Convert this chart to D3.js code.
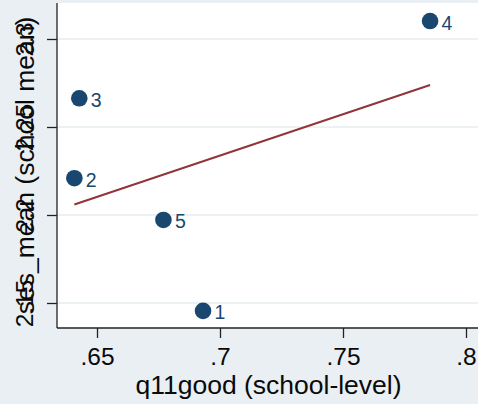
<!DOCTYPE html>
<html>
<head>
<meta charset="utf-8">
<script src="https://cdn.jsdelivr.net/npm/d3@7"></script>
<style>
  html, body { margin: 0; padding: 0; background: #e9eff2; }
  svg { display: block; font-family: "Liberation Sans", Arial, Helvetica, sans-serif; }
</style>
</head>
<body>
<svg id="chart" width="478" height="404"></svg>
<script>
// School-level means: share answering "good" on q11 vs. mean SES
const schoolIds = ["1", "2", "3", "4", "5"];
const q11good   = [0.6931, 0.6408, 0.6428, 0.7854, 0.6770];
const sesMean   = [2.1455, 2.2209, 2.2663, 2.3102, 2.1972];

const xTicks = [0.65, 0.70, 0.75, 0.80];
const xTickLabels = [".65", ".7", ".75", ".8"];
const yTicks = [2.15, 2.20, 2.25, 2.30];
const yTickLabels = ["2.15", "2.2", "2.25", "2.3"];

const xTitle = "q11good (school-level)";
const yTitle = "ses_mean (school mean)";

const W = 478, H = 404;
const plot = { left: 57, top: 3, right: 490, bottom: 328 };

const navy = "#1a476f", maroon = "#90353b", grid = "#e6edf0", axisColor = "#222", ink = "#0a0a0a";
const tickFont = "24.5px", titleFont = "26.5px";

const x = d3.scaleLinear().domain([0.65, 0.80]).range([97, 466]);
const y = d3.scaleLinear().domain([2.15, 2.30]).range([303, 39]);

const svg = d3.select("#chart");

svg.append("rect").attr("width", W).attr("height", H).attr("fill", "#e9eff2");
svg.append("rect")
  .attr("x", plot.left).attr("y", plot.top)
  .attr("width", plot.right - plot.left).attr("height", plot.bottom - plot.top)
  .attr("fill", "#fff");

// horizontal grid lines
svg.append("g").selectAll("line").data(yTicks).join("line")
  .attr("x1", plot.left).attr("x2", plot.right)
  .attr("y1", d => y(d)).attr("y2", d => y(d))
  .attr("stroke", grid).attr("stroke-width", 1.3);

// x axis
const xAxis = d3.axisBottom(x).tickValues(xTicks)
  .tickFormat((d, i) => xTickLabels[i]).tickSize(10).tickSizeOuter(0);
const gx = svg.append("g").attr("transform", `translate(0,${plot.bottom})`).call(xAxis);
gx.select(".domain").attr("d", `M${plot.left},0H${plot.right}`).attr("stroke", axisColor).attr("stroke-width", 1.3);
gx.selectAll(".tick line").attr("stroke", axisColor).attr("stroke-width", 1.3);
gx.selectAll(".tick text").attr("dy", null).attr("y", 36.5)
  .attr("fill", ink).style("font-size", tickFont)
  .style("font-family", "Liberation Sans, Arial, sans-serif");

// y axis
const yAxis = d3.axisLeft(y).tickValues(yTicks)
  .tickFormat((d, i) => yTickLabels[i]).tickSize(10).tickSizeOuter(0);
const gy = svg.append("g").attr("transform", `translate(${plot.left},0)`).call(yAxis);
gy.select(".domain").attr("d", `M0,${plot.top}V${plot.bottom}`).attr("stroke", axisColor).attr("stroke-width", 1.3);
gy.selectAll(".tick line").attr("stroke", axisColor).attr("stroke-width", 1.3);
gy.selectAll(".tick text")
  .attr("x", null).attr("dy", null)
  .attr("transform", `translate(${33 - plot.left},0) rotate(-90)`)
  .attr("text-anchor", "middle")
  .attr("fill", ink).style("font-size", tickFont)
  .style("font-family", "Liberation Sans, Arial, sans-serif");

// axis titles
svg.append("text")
  .attr("x", (plot.left + W) / 2 + 1).attr("y", 394)
  .attr("text-anchor", "middle").attr("fill", ink)
  .style("font-size", titleFont).text(xTitle);
svg.append("text")
  .attr("transform", `translate(34,${(plot.top + plot.bottom) / 2}) rotate(-90)`)
  .attr("text-anchor", "middle").attr("fill", ink)
  .style("font-size", titleFont).text(yTitle);

// least-squares fitted line
const n = q11good.length;
const mx = d3.mean(q11good), my = d3.mean(sesMean);
let sxy = 0, sxx = 0;
for (let i = 0; i < n; i++) {
  sxy += (q11good[i] - mx) * (sesMean[i] - my);
  sxx += (q11good[i] - mx) ** 2;
}
const slope = sxy / sxx, intercept = my - slope * mx;
const [x0, x1] = d3.extent(q11good);
svg.append("line")
  .attr("x1", x(x0)).attr("y1", y(intercept + slope * x0))
  .attr("x2", x(x1)).attr("y2", y(intercept + slope * x1))
  .attr("stroke", maroon).attr("stroke-width", 2);

// school markers with labels
const pts = schoolIds.map((id, i) => ({ id, xv: q11good[i], yv: sesMean[i] }));
svg.append("g").selectAll("circle").data(pts).join("circle")
  .attr("cx", d => x(d.xv)).attr("cy", d => y(d.yv)).attr("r", 8.3)
  .attr("fill", navy);
svg.append("g").selectAll("text").data(pts).join("text")
  .attr("x", d => x(d.xv) + 11.5).attr("y", d => y(d.yv) + 8.5)
  .attr("fill", navy).style("font-size", "19.5px").text(d => d.id);
</script>
</body>
</html>
